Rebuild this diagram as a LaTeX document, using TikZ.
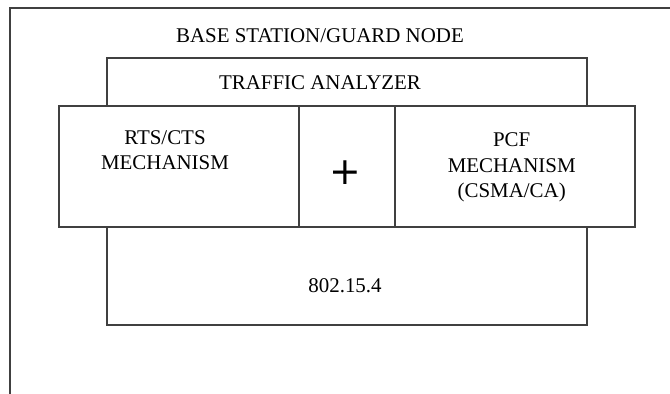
\documentclass[tikz,border=0pt]{standalone}
\usepackage{fontspec}
\setmainfont{Liberation Serif}
\newfontfamily\plusfont{DejaVu Sans}
\begin{document}
\begin{tikzpicture}[x=1bp,y=-1bp,
  frame/.style={draw=black!75, line width=2bp},
  blockbox/.style={frame, rectangle, inner sep=0pt, anchor=north west},
  lbl/.style={inner sep=0pt, anchor=base, align=center,
    font=\fontsize{21}{25.5}\selectfont}]
\path[use as bounding box, clip] (0,0) rectangle (670,393);
% outer (cut off) box
\coordinate (obl) at (10,420);
\coordinate (otr) at (700,7.5);
\draw[frame] (obl) |- (otr);
\node[lbl] (bs) at (320,42.8) {BASE STATION/GUARD NODE};
% traffic analyzer
\node[blockbox, minimum width=480bp, minimum height=48bp] (ta) at (106,57) {};
\node[lbl] (tat) at (320,89.5) {TRAFFIC ANALYZER};
% middle row
\node[blockbox, minimum width=240bp, minimum height=120.5bp] (rts) at (58,105) {};
\node[blockbox, minimum width=96bp, minimum height=120.5bp] (plus) at (298,105) {};
\node[blockbox, minimum width=240bp, minimum height=120.5bp] (pcf) at (394,105) {};
\node[lbl] (rtst) at (165,169.5) {RTS/CTS\\MECHANISM};
\node[inner sep=0pt, font=\plusfont\fontsize{38}{38}\selectfont] (plust) at (345,173) {+};
\node[lbl] (pcft) at (511.7,197.5) {PCF\\MECHANISM\\(CSMA/CA)};
% bottom
\node[blockbox, minimum width=480bp, minimum height=98bp] (mac) at (106,225.5) {};
\node[lbl] (mact) at (345,292.9) {802.15.4};
\end{tikzpicture}
\end{document}
